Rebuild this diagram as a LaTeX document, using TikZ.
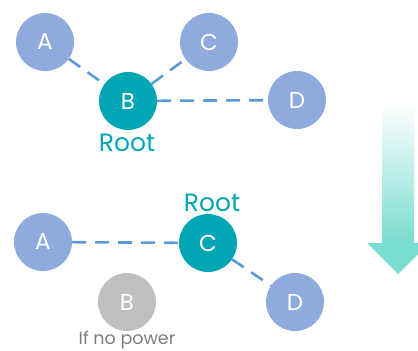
\documentclass[tikz,border=0pt]{standalone}
\usepackage{fontspec}
\setmainfont{Poppins}
\definecolor{nodeblue}{HTML}{8FAADC}
\definecolor{rootteal}{HTML}{00A6B4}
\definecolor{offgray}{HTML}{BFBFBF}
\definecolor{linkblue}{HTML}{5B9BD5}
\definecolor{arrowteal}{HTML}{78DCD0}
\definecolor{notegray}{HTML}{7F7F7F}
\begin{document}
\begin{tikzpicture}[x=1pt,y=-1pt,
  dev/.style={circle,minimum size=58pt,inner sep=0pt,text=white,font=\fontsize{23}{23}\selectfont},
  leaf/.style={dev,fill=nodeblue},
  rootnode/.style={dev,fill=rootteal},
  offnode/.style={dev,fill=offgray},
  link/.style={draw=linkblue,line width=2.6pt,dash pattern=on 14pt off 9pt},
  rootlabel/.style={text=rootteal,font=\fontsize{25}{25}\selectfont},
  notelabel/.style={text=notegray,inner sep=0pt,font=\fontsize{17.5}{17.5}\selectfont}]
\useasboundingbox (0,0) rectangle (418,351);
% top
\node[leaf] (tA) at (45,42) {A};
\node[leaf] (tC) at (209,42) {C};
\node[rootnode] (tB) at (128,101) {B};
\node[leaf] (tD) at (297,100) {D};
\node[rootlabel] (tR) at (127,143) {Root};
\draw[link] (tA) -- (tB);
\draw[link] (tB) -- (tC);
\draw[link] (tB) -- (tD);
% bottom
\node[leaf] (bA) at (43,242) {A};
\node[rootnode] (bC) at (208,243) {C};
\node[offnode] (bB) at (127,302) {B};
\node[leaf] (bD) at (295,302) {D};
\node[rootlabel] (bR) at (212,203) {Root};
\node[notelabel] (bN) at (127,340) {If no power};
\draw[link] (bA) -- (bC);
\draw[link] (bC) -- (bD);
% arrow
\shade[top color=white,bottom color=arrowteal] (382,103) rectangle (414,244);
\fill[arrowteal] (367,243) -- (429,243) -- (398,274) -- cycle;
\end{tikzpicture}
\end{document}
